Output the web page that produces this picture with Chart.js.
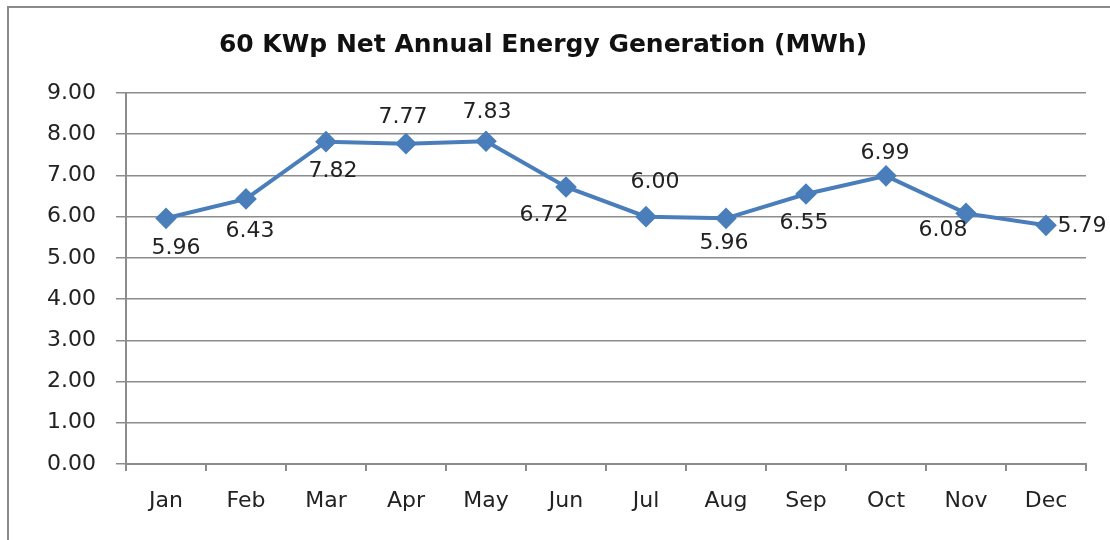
<!DOCTYPE html>
<html>
<head>
<meta charset="utf-8">
<script src="https://cdn.jsdelivr.net/npm/chart.js@4/dist/chart.umd.min.js"></script>
<style>
  html, body { margin: 0; padding: 0; background: #fff; }
  #wrap { position: relative; width: 1110px; height: 540px; overflow: hidden; }
  #frame { position: absolute; left: 7px; top: 6px; width: 1200px; height: 600px; border: 2px solid #8a8a8a; box-sizing: border-box; }
  canvas { position: absolute; left: 0; top: 0; }
</style>
</head>
<body>
<div id="wrap">
  <div id="frame"></div>
  <canvas id="chart" width="1110" height="540"></canvas>
</div>
<script>
// data
const months = ["Jan", "Feb", "Mar", "Apr", "May", "Jun", "Jul", "Aug", "Sep", "Oct", "Nov", "Dec"];
const generation = [5.96, 6.43, 7.82, 7.77, 7.83, 6.72, 6.00, 5.96, 6.55, 6.99, 6.08, 5.79];
const yTicks = [0, 1, 2, 3, 4, 5, 6, 7, 8, 9];

// where each value label sits relative to its point (style only)
const labelOffsets = [
  [10, 30], [4, 32], [7, 30], [-3, -26], [1, -29], [-22, 28],
  [9, -34], [-2, 25], [-2, 29], [-1, -23], [-23, 17], [36, 1]
];

const lineBlue = "#4a7ebb";
const gridGray = "#8c8c8c";
const FONT = "'DejaVu Sans', sans-serif";

const valueLabels = {
  id: "valueLabels",
  afterDatasetsDraw(chart) {
    const ctx = chart.ctx;
    const meta = chart.getDatasetMeta(0);
    ctx.save();
    ctx.font = "22px " + FONT;
    ctx.fillStyle = "#222";
    ctx.textAlign = "center";
    ctx.textBaseline = "middle";
    meta.data.forEach((pt, i) => {
      const off = labelOffsets[i];
      ctx.fillText(generation[i].toFixed(2), pt.x + off[0], pt.y + off[1]);
    });
    ctx.restore();
  }
};

new Chart(document.getElementById("chart"), {
  type: "line",
  data: {
    labels: months,
    datasets: [{
      data: generation,
      borderColor: lineBlue,
      backgroundColor: lineBlue,
      borderWidth: 4,
      tension: 0,
      pointStyle: "rectRot",
      pointRadius: 8,
      pointHoverRadius: 8,
      pointBackgroundColor: lineBlue,
      pointBorderColor: lineBlue
    }]
  },
  options: {
    responsive: false,
    animation: false,
    devicePixelRatio: 1,
    layout: { padding: { left: 0, right: 24, top: 0, bottom: 0 } },
    plugins: {
      legend: { display: false },
      tooltip: { enabled: false },
      title: {
        display: true,
        text: "60 KWp Net Annual Energy Generation (MWh)",
        color: "#111",
        font: { family: FONT, size: 25, weight: "bold" },
        padding: { top: 30, bottom: 33 }
      }
    },
    scales: {
      x: {
        offset: true,
        grid: { offset: true, drawOnChartArea: false, drawTicks: true, tickLength: 7, color: gridGray, lineWidth: 2 },
        border: { color: gridGray, width: 2 },
        ticks: { color: "#222", font: { family: FONT, size: 22 }, padding: 17 },
        afterFit(scale) { scale.height = 540 - 464; }
      },
      y: {
        min: 0,
        max: 9,
        afterBuildTicks(scale) { scale.ticks = yTicks.map(v => ({ value: v })); },
        grid: { color: gridGray, lineWidth: 1.5, tickLength: 10 },
        border: { color: gridGray, width: 2 },
        ticks: {
          color: "#222",
          font: { family: FONT, size: 22 },
          padding: 20,
          callback: v => Number(v).toFixed(2)
        },
        afterFit(scale) { scale.width = 126; }
      }
    }
  },
  plugins: [valueLabels]
});
</script>
</body>
</html>
